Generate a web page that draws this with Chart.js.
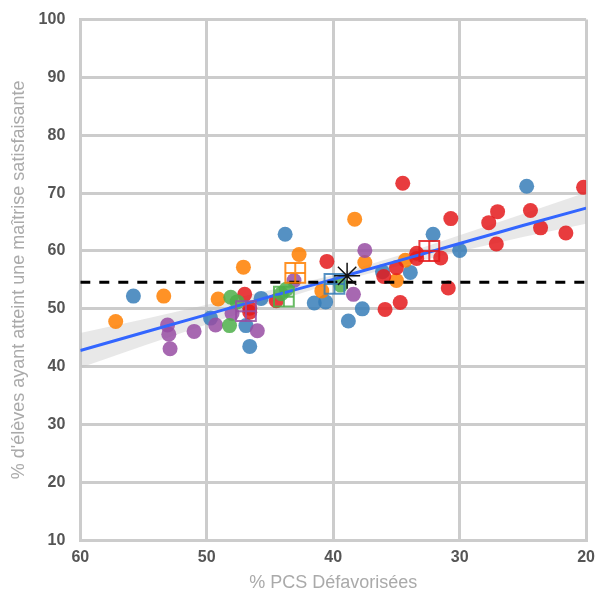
<!DOCTYPE html>
<html lang="fr">
<head>
<meta charset="UTF-8">
<title>Maîtrise vs PCS défavorisées</title>
<script src="https://cdn.jsdelivr.net/npm/chart.js@4.4.1/dist/chart.umd.min.js"></script>
<style>
    html, body { margin: 0; background: #fff; overflow: hidden; }
    /* canvas a bit larger than the window so the plot box sits where the original has it */
    #chrt { display: block; margin-top: -5px; }
</style>
</head>
<body>
<canvas id="chrt" width="603" height="599"></canvas>
<script>
    // points, one pair of arrays per group
    const blueX = [55.8, 45.7, 49.7, 46.9, 46.6, 43.8, 41.5, 40.6, 38.8, 37.7, 36.1, 33.9, 32.1, 30.0, 24.7]
    const blueY = [52.2, 51.8, 48.4, 47.1, 43.5, 62.9, 51.0, 51.2, 47.9, 50.0, 56.4, 56.3, 62.9, 60.1, 71.2]
    const orangeX = [57.2, 53.4, 49.1, 47.1, 42.7, 40.9, 38.3, 37.5, 35.0, 34.3]
    const orangeY = [47.8, 52.2, 51.7, 57.2, 59.4, 53.1, 65.5, 58.0, 54.9, 58.4]
    const redX = [47.0, 46.6, 46.6, 44.5, 40.5, 36.0, 35.0, 35.9, 34.7, 34.5, 33.4, 33.4, 31.5, 30.9, 30.7, 27.7, 27.1, 27.0, 24.4, 23.6, 21.6, 20.2]
    const redY = [52.5, 50.1, 49.4, 51.4, 58.2, 55.6, 57.1, 49.9, 51.1, 71.7, 59.6, 58.7, 58.8, 53.6, 65.6, 64.9, 61.2, 66.8, 67.0, 64.0, 63.1, 71.0]
    const purpleX = [53.1, 53.0, 52.9, 51.0, 49.3, 48.0, 46.0, 43.1, 38.4, 37.5]
    const purpleY = [47.2, 45.6, 43.1, 46.1, 47.2, 49.2, 46.2, 54.9, 52.5, 60.1]
    const greenX = [48.1, 47.6, 48.2, 44.1, 43.7, 39.4]
    const greenY = [52.0, 51.2, 47.1, 52.6, 53.4, 54.1]

    // group means (open squares), order: blue, orange, red, purple, green
    const meanX = [39.9, 43.0, 32.4, 46.9, 43.9]
    const meanY = [54.3, 56.2, 60.0, 49.6, 52.1]
    const overallX = [38.9]
    const overallY = [55.7]
    const refLevel = 54.6

    // fitted line and its grey band
    const fitX = [60, 55, 50, 45, 40, 38.9, 35, 30, 25, 20]
    const fitY = [42.8, 45.9, 49.0, 52.1, 55.1, 55.8, 58.2, 61.3, 64.4, 67.4]
    const bandHi = [45.8, 48.2, 50.7, 53.2, 55.8, 56.5, 59.1, 62.7, 66.4, 70.1]
    const bandLo = [39.8, 43.6, 47.3, 51.0, 54.4, 55.1, 57.3, 59.9, 62.4, 64.7]

    const xTicks = [60, 50, 40, 30, 20]
    const yTicks = [10, 20, 30, 40, 50, 60, 70, 80, 90, 100]

    const colBlue = 'rgba(55,126,184,0.85)'
    const colOrange = 'rgba(255,127,0,0.85)'
    const colRed = 'rgba(228,26,28,0.85)'
    const colPurple = 'rgba(152,78,163,0.85)'
    const colGreen = 'rgba(77,175,74,0.85)'
    const meanCols = [colBlue, colOrange, colRed, colPurple, colGreen]

    const pts = (xs, ys) => xs.map((x, i) => ({ x: x, y: ys[i] }))

    function dots(xs, ys, col, order) {
        return {
            data: pts(xs, ys),
            backgroundColor: col,
            borderWidth: 0,
            pointRadius: 7.5,
            order: order
        }
    }

    const gridCol = '#cccccc'
    let chrt = document.getElementById('chrt').getContext('2d')

    let myChart = new Chart(chrt, {
        type: 'scatter',
        data: {
            datasets: [
                {
                    type: 'line',
                    data: pts(fitX, bandHi),
                    borderWidth: 0,
                    pointRadius: 0,
                    backgroundColor: 'rgba(190,190,190,0.35)',
                    fill: '+1',
                    order: 20
                },
                {
                    type: 'line',
                    data: pts(fitX, bandLo),
                    borderWidth: 0,
                    pointRadius: 0,
                    fill: false,
                    order: 21
                },
                dots(blueX, blueY, colBlue, 15),
                dots(orangeX, orangeY, colOrange, 14),
                dots(redX, redY, colRed, 13),
                dots(purpleX, purpleY, colPurple, 12),
                dots(greenX, greenY, colGreen, 11),
                {
                    type: 'line',
                    data: pts(fitX, fitY),
                    borderColor: '#3366ff',
                    borderWidth: 3,
                    pointRadius: 0,
                    fill: false,
                    order: 5
                },
                {
                    type: 'line',
                    data: [{ x: 60, y: refLevel }, { x: 20, y: refLevel }],
                    borderColor: '#000',
                    borderWidth: 3,
                    borderDash: [10, 9],
                    pointRadius: 0,
                    fill: false,
                    order: 4
                },
                {
                    data: pts(meanX, meanY),
                    pointStyle: 'rect',
                    pointRadius: 14,
                    backgroundColor: 'rgba(0,0,0,0)',
                    borderColor: meanCols,
                    pointBorderWidth: 2,
                    order: 3
                },
                {
                    data: pts(meanX, meanY),
                    pointStyle: 'cross',
                    pointRadius: 10,
                    borderColor: meanCols,
                    pointBorderWidth: 2,
                    order: 2
                },
                {
                    data: pts(overallX, overallY),
                    pointStyle: 'star',
                    pointRadius: 13,
                    borderColor: '#111',
                    pointBorderWidth: 1.5,
                    order: 1
                }
            ]
        },
        options: {
            responsive: false,
            animation: false,
            layout: { padding: { left: 8, right: 0, top: 5, bottom: 0 } },
            plugins: {
                legend: { display: false },
                tooltip: { enabled: false }
            },
            scales: {
                x: {
                    type: 'linear',
                    reverse: true,
                    min: 20,
                    max: 60,
                    afterBuildTicks: s => { s.ticks = xTicks.map(v => ({ value: v })) },
                    grid: { color: gridCol, lineWidth: 3, drawTicks: false },
                    border: { color: gridCol, width: 3 },
                    ticks: {
                        padding: 8,
                        color: '#555',
                        font: { family: 'Liberation Sans', size: 16, weight: 'bold' }
                    },
                    title: {
                        display: true,
                        text: '% PCS Défavorisées',
                        color: '#aaaaaa',
                        padding: { top: -3, bottom: 0 },
                        font: { family: 'Liberation Sans', size: 18 }
                    }
                },
                y: {
                    min: 10,
                    max: 100,
                    afterBuildTicks: s => { s.ticks = yTicks.map(v => ({ value: v })) },
                    grid: { color: gridCol, lineWidth: 3, drawTicks: false },
                    border: { color: gridCol, width: 3 },
                    ticks: {
                        padding: 15,
                        color: '#555',
                        font: { family: 'Liberation Sans', size: 16, weight: 'bold' }
                    },
                    title: {
                        display: true,
                        text: "% d'élèves ayant atteint une maîtrise satisfaisante",
                        color: '#aaaaaa',
                        padding: { top: 0, bottom: -6 },
                        font: { family: 'Liberation Sans', size: 18 }
                    }
                }
            }
        }
    })
</script>
</body>
</html>
